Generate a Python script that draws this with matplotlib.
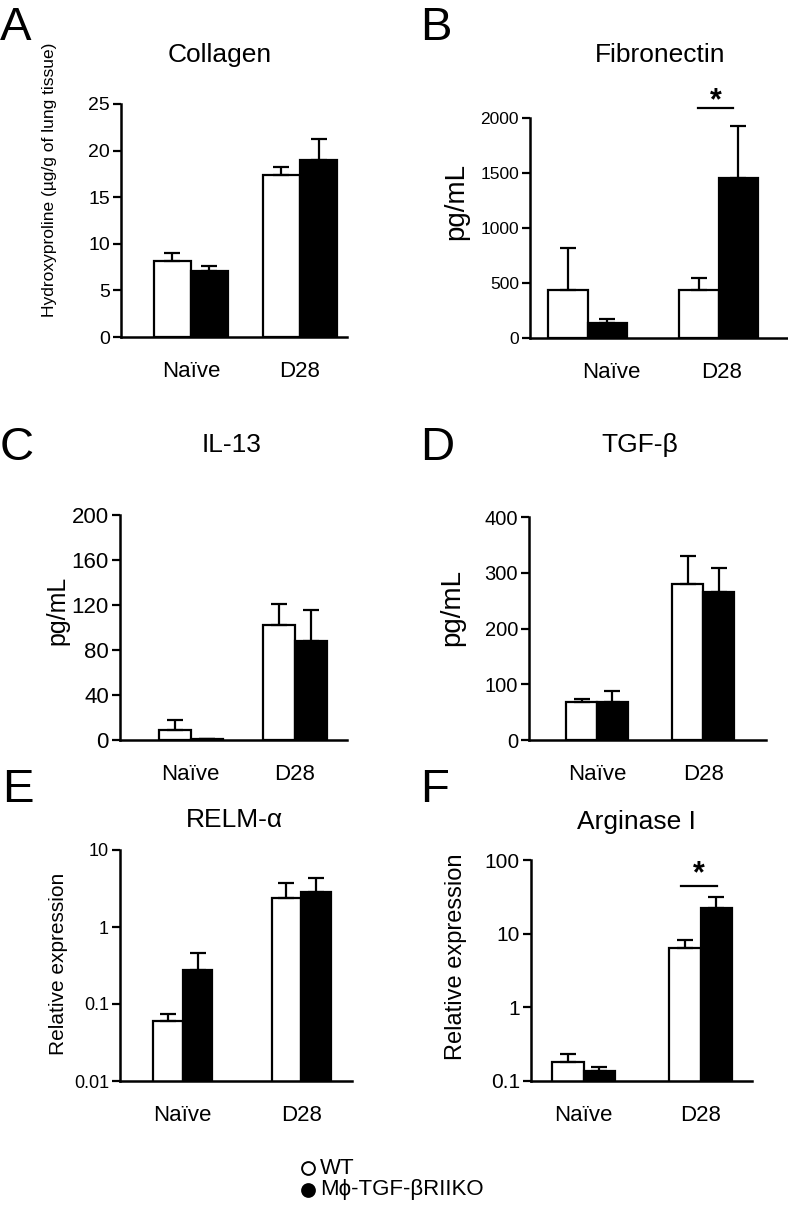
import matplotlib
matplotlib.use("Agg")
import matplotlib.pyplot as plt
import numpy as np

plt.rcParams['font.family'] = ['Liberation Sans', 'DejaVu Sans']

W, H = 788, 1222

groups = ['Naïve', 'D28']
series = ['WT', 'Mϕ-TGF-βRIIKO']

# mean values and upper error (SEM), WT then KO
collagen_wt = [8.2, 17.4]
collagen_wt_err = [0.8, 0.8]
collagen_ko = [7.1, 19.0]
collagen_ko_err = [0.5, 2.2]

fibro_wt = [440, 440]
fibro_wt_err = [380, 110]
fibro_ko = [136, 1455]
fibro_ko_err = [37, 475]

il13_wt = [9, 102]
il13_wt_err = [9, 19]
il13_ko = [0.5, 88]
il13_ko_err = [0, 28]

tgfb_wt = [68, 280]
tgfb_wt_err = [5, 50]
tgfb_ko = [68, 265]
tgfb_ko_err = [20, 44]

relm_wt = [0.060, 2.4]
relm_wt_err = [0.014, 1.35]
relm_ko = [0.28, 2.85]
relm_ko_err = [0.18, 1.5]

arg_wt = [0.18, 6.4]
arg_wt_err = [0.05, 1.8]
arg_ko = [0.137, 22.3]
arg_ko_err = [0.018, 9.1]


def px_axes(fig, left, right, top, bottom):
    return fig.add_axes([left / W, 1 - bottom / H, (right - left) / W, (bottom - top) / H])


def bar_panel(fig, box, wt, wt_err, ko, ko_err, ylim, yticks, yticklabels,
              xlim, width, log=False, label_shift=(0, 0), tick_size=13):
    ax = px_axes(fig, *box)
    x = np.arange(len(groups))
    ekw = dict(ecolor='black', elinewidth=1.6, capsize=5.5, capthick=1.6)
    ax.bar(x - width / 2, wt, width, yerr=[np.zeros(len(wt)), wt_err],
           color='white', edgecolor='black', linewidth=1.6, error_kw=ekw, zorder=2)
    ax.bar(x + width / 2, ko, width, yerr=[np.zeros(len(ko)), ko_err],
           color='black', edgecolor='black', linewidth=1.6, error_kw=ekw, zorder=2)
    if log:
        ax.set_yscale('log')
        ax.minorticks_off()
    ax.set_ylim(*ylim)
    ax.set_yticks(yticks)
    ax.set_yticklabels(yticklabels)
    ax.set_xlim(*xlim)
    ax.set_xticks(x + np.array(label_shift))
    ax.set_xticklabels(groups, fontsize=16)
    ax.tick_params(axis='x', length=0, pad=17)
    ax.tick_params(axis='y', length=6, width=1.6, labelsize=tick_size, pad=2)
    for s in ['top', 'right']:
        ax.spines[s].set_visible(False)
    for s in ['left', 'bottom']:
        ax.spines[s].set_linewidth(1.8)
    ax.patch.set_alpha(0)
    return ax


def sig_mark(ax, x0, x1, y, ystar):
    ax.plot([x0, x1], [y, y], color='black', lw=1.6, clip_on=False)
    ax.text((x0 + x1) / 2, ystar, '*', ha='center', va='center', fontsize=22,
            fontweight='bold', clip_on=False)


fig = plt.figure(figsize=(W / 100, H / 100), dpi=100)

# A - Collagen
axA = bar_panel(fig, (121, 347, 104, 337), collagen_wt, collagen_wt_err,
                collagen_ko, collagen_ko_err, (0, 25), [0, 5, 10, 15, 20, 25],
                ['0', '5', '10', '15', '20', '25'], (-0.64, 1.43), 0.34, tick_size=14)

# B - Fibronectin
axB = bar_panel(fig, (530, 787, 118, 338), fibro_wt, fibro_wt_err,
                fibro_ko, fibro_ko_err, (0, 2000), [0, 500, 1000, 1500, 2000],
                ['0', '500', '1000', '1500', '2000'], (-0.44, 1.52), 0.30,
                label_shift=(0.18, 0.02), tick_size=12.5)
sig_mark(axB, 0.84, 1.11, 2090, 2150)

# C - IL-13
axC = bar_panel(fig, (120, 347, 515, 740), il13_wt, il13_wt_err,
                il13_ko, il13_ko_err, (0, 200), [0, 40, 80, 120, 160, 200],
                ['0', '40', '80', '120', '160', '200'], (-0.68, 1.5), 0.31, tick_size=16)

# D - TGF-beta
axD = bar_panel(fig, (529, 766, 517, 740), tgfb_wt, tgfb_wt_err,
                tgfb_ko, tgfb_ko_err, (0, 400), [0, 100, 200, 300, 400],
                ['0', '100', '200', '300', '400'], (-0.64, 1.59), 0.29, tick_size=14.5)

# E - RELM-alpha
axE = bar_panel(fig, (120, 352, 850, 1081), relm_wt, relm_wt_err,
                relm_ko, relm_ko_err, (0.01, 10), [0.01, 0.1, 1, 10],
                ['0.01', '0.1', '1', '10'], (-0.53, 1.43), 0.25, log=True, tick_size=13)

# F - Arginase I
axF = bar_panel(fig, (531, 752, 860, 1081), arg_wt, arg_wt_err,
                arg_ko, arg_ko_err, (0.1, 100), [0.1, 1, 10, 100],
                ['0.1', '1', '10', '100'], (-0.45, 1.44), 0.27, log=True, tick_size=15)
sig_mark(axF, 0.83, 1.14, 44, 64)


def ftext(xp, yp, s, **kw):
    fig.text(xp / W, 1 - yp / H, s, **kw)


# titles
ftext(220, 55, 'Collagen', ha='center', va='center', fontsize=19)
ftext(660, 55, 'Fibronectin', ha='center', va='center', fontsize=19)
ftext(232, 445, 'IL-13', ha='center', va='center', fontsize=19)
ftext(640, 445, 'TGF-β', ha='center', va='center', fontsize=19)
ftext(234, 820, 'RELM-α', ha='center', va='center', fontsize=19)
ftext(636, 822, 'Arginase I', ha='center', va='center', fontsize=19)

# y labels
ftext(50, 180, 'Hydroxyproline (µg/g of lung tissue)', ha='center', va='center',
      rotation=90, fontsize=12.5)
ftext(456, 201, 'pg/mL', ha='center', va='center', rotation=90, fontsize=20)
ftext(57, 610, 'pg/mL', ha='center', va='center', rotation=90, fontsize=18)
ftext(452, 608, 'pg/mL', ha='center', va='center', rotation=90, fontsize=20)
ftext(59, 964, 'Relative expression', ha='center', va='center', rotation=90, fontsize=15)
ftext(456, 957, 'Relative expression', ha='center', va='center', rotation=90, fontsize=17)

# panel letters
for xp, yp, s in [(0, 28, 'A'), (420, 28, 'B'), (0, 448, 'C'), (420, 448, 'D'),
                  (2, 790, 'E'), (420, 790, 'F')]:
    ftext(xp, yp, s, ha='left', va='center', fontsize=34)

# legend
leg = fig.add_axes([0, 0, 1, 1])
leg.set_xlim(0, W)
leg.set_ylim(H, 0)
leg.axis('off')
leg.scatter([308], [1168], s=85, facecolor='white', edgecolor='black', linewidth=1.4)
leg.scatter([308], [1190], s=85, facecolor='black', edgecolor='black', linewidth=1.4)
leg.text(320, 1168, series[0], ha='left', va='center', fontsize=16)
leg.text(320, 1190, series[1], ha='left', va='center', fontsize=16)

fig.savefig('out.png', dpi=100)
